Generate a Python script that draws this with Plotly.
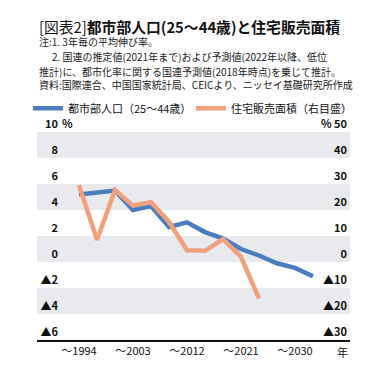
import plotly.graph_objects as go

# ---- data ----
years_pop = [1994, 1997, 2000, 2003, 2006, 2009, 2012, 2015, 2018, 2021, 2024, 2027, 2030, 2033]
urban_pop = [5.2, 5.35, 5.5, 4.0, 4.3, 2.7, 3.05, 2.3, 1.8, 1.0, 0.5, -0.1, -0.45, -1.1]

years_sales = [1994, 1997, 2000, 2003, 2006, 2009, 2012, 2015, 2018, 2021, 2024]
housing_sales = [29.5, 8.5, 27.7, 21.7, 23.0, 15.5, 4.5, 4.3, 8.8, 2.0, -14.0]

x_tickvals = [1994, 2003, 2012, 2021, 2030]
x_ticktext = ["～1994", "～2003", "～2012", "～2021", "～2030"]
x_unit_pos = 2038
x_unit_text = "年"

left_tickvals = [-6, -4, -2, 0, 2, 4, 6, 8, 10]
left_ticktext = ["▲6", "▲4", "▲2", "0", "2", "4", "6", "8", "10"]
right_tickvals = [-30, -20, -10, 0, 10, 20, 30, 40, 50]
right_ticktext = ["▲30", "▲20", "▲10", "0", "10", "20", "30", "40", "% 50"]

band_ranges = [(8, 10), (4, 6), (0, 2), (-4, -2)]

series_names = ["都市部人口（25～44歳）", "住宅販売面積（右目盛）"]
title_text = "[図表2]<b>都市部人口(25～44歳)と住宅販売面積</b>"
note_lines = [
    "注:1. 3年毎の平均伸び率。",
    "2. 国連の推定値(2021年まで)および予測値(2022年以降、低位",
    "推計)に、都市化率に関する国連予測値(2018年時点)を乗じて推計。",
    "資料:国際連合、中国国家統計局、CEICより、ニッセイ基礎研究所作成",
]

FONT = "Noto Sans CJK JP"
BLUE = "#4A7DBF"
ORANGE = "#F0A07C"
BAND = "#E8EAED"

fig = go.Figure()
fig.add_trace(go.Scatter(x=years_pop, y=urban_pop, mode="lines", name=series_names[0],
                         line=dict(color=BLUE, width=4.5), yaxis="y"))
fig.add_trace(go.Scatter(x=years_sales, y=housing_sales, mode="lines", name=series_names[1],
                         line=dict(color=ORANGE, width=4.5), yaxis="y2"))

shapes = []
for lo, hi in band_ranges:
    shapes.append(dict(type="rect", xref="paper", yref="y", x0=0, x1=1, y0=lo, y1=hi,
                       fillcolor=BAND, line=dict(width=0), layer="below"))

annotations = [dict(text=title_text, xref="paper", yref="paper", x=0, y=1.508,
                    xanchor="left", yanchor="middle", showarrow=False,
                    font=dict(family=FONT, size=14.8, color="#111"))]
note_y = [1.433, 1.361, 1.293, 1.226]
note_shift = [0, 13, 0, 0]
for t, yy, sh in zip(note_lines, note_y, note_shift):
    annotations.append(dict(text=t, xref="paper", yref="paper", x=0, y=yy, xshift=sh,
                            xanchor="left", yanchor="middle", showarrow=False,
                            font=dict(family=FONT, size=10, color="#222")))
annotations.append(dict(text="%", xref="paper", yref="y", x=0.074, y=10, xanchor="left",
                        yanchor="bottom", showarrow=False, yshift=-1,
                        font=dict(family=FONT, size=11, color="#111", weight="bold")))
annotations.append(dict(text=x_unit_text, xref="x", yref="paper", x=x_unit_pos, y=0,
                        xanchor="center", yanchor="top", showarrow=False, yshift=-2,
                        font=dict(family=FONT, size=11, color="#111")))

fig.update_layout(
    width=389, height=372,
    margin=dict(l=37, r=39, t=132, b=32, autoexpand=False),
    paper_bgcolor="white", plot_bgcolor="white",
    font=dict(family=FONT, size=11, color="#111"),
    showlegend=True,
    legend=dict(orientation="h", x=-0.029, y=1.114, xanchor="left", yanchor="middle",
                font=dict(family=FONT, size=11, color="#111"),
                entrywidth=118, entrywidthmode="pixels", bgcolor="rgba(0,0,0,0)"),
    shapes=shapes,
    annotations=annotations,
    xaxis=dict(range=[1987, 2039.17], tickvals=x_tickvals, ticktext=x_ticktext,
               showgrid=False, zeroline=False, showline=True, linecolor="#111", linewidth=1.5,
               ticks="", automargin=False, tickfont=dict(family=FONT, size=11, color="#111")),
    yaxis=dict(range=[-6, 10], tickvals=left_tickvals, ticktext=left_ticktext,
               anchor="free", position=0.067, showgrid=False, zeroline=False, showline=False,
               ticks="", ticklabelposition="outside top", ticklabeloverflow="allow",
               automargin=False,
               tickfont=dict(family=FONT, size=11, color="#111", weight="bold")),
    yaxis2=dict(range=[-30, 50], tickvals=right_tickvals, ticktext=right_ticktext,
                overlaying="y", side="right", showgrid=False, zeroline=False, showline=False,
                ticks="", ticklabelposition="inside top", ticklabeloverflow="allow",
                automargin=False,
                tickfont=dict(family=FONT, size=11, color="#111", weight="bold")),
)

fig.write_html("out.html", config={"displayModeBar": False},
               post_script="document.body.style.margin='0';document.body.style.overflow='hidden';")
